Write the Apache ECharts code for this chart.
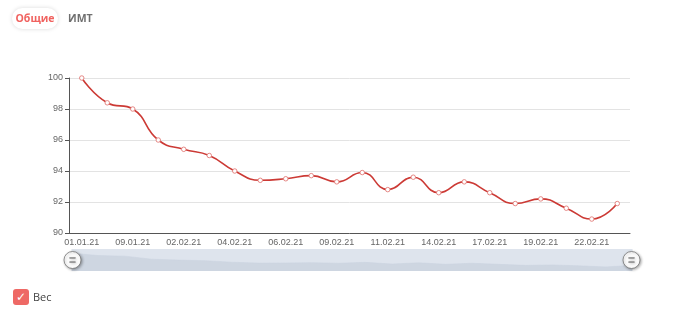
<!DOCTYPE html>
<html>
<head>
<meta charset="utf-8">
<script src="https://cdn.jsdelivr.net/npm/echarts@6/dist/echarts.min.js"></script>
<style>
html,body{margin:0;padding:0;background:#fff;}
#wrap{position:relative;width:680px;height:312px;overflow:hidden;font-family:"Open Sans",sans-serif;}
#chart{position:absolute;left:0;top:0;width:680px;height:312px;}
.tab{position:absolute;top:8px;height:21px;line-height:21px;font-size:10.5px;font-weight:bold;}
#t1{left:12px;width:46px;text-align:center;color:#f0625f;background:#fff;border-radius:11px;box-shadow:0 0 4px rgba(0,0,0,0.15);}
#t2{left:68px;color:#6f6f6f;}
#chk{position:absolute;left:13px;top:289px;width:16px;height:16px;border-radius:3px;background:#ee6965;color:#fff;font-family:"DejaVu Sans";font-size:12px;line-height:16px;text-align:center;}
#lg{position:absolute;left:33px;top:290px;font-size:11px;color:#444;line-height:14px;}
</style>
</head>
<body>
<div id="wrap">
<div id="chart"></div>
<div class="tab" id="t1">Общие</div>
<div class="tab" id="t2">ИМТ</div>
<div id="chk">✓</div>
<div id="lg">Вес</div>
</div>
<script>
const categories = ["01.01.21","05.01.21","09.01.21","15.01.21","02.02.21","03.02.21","04.02.21","05.02.21","06.02.21","08.02.21","09.02.21","10.02.21","11.02.21","13.02.21","14.02.21","16.02.21","17.02.21","18.02.21","19.02.21","21.02.21","22.02.21","23.02.21"];
const weights = [100,98.4,98,96,95.4,95,94,93.4,93.5,93.7,93.3,93.9,92.8,93.6,92.6,93.3,92.6,91.9,92.2,91.6,90.9,91.9];
const yTicks = {min:90, max:100, step:2};
const seriesName = "Вес";

const chart = echarts.init(document.getElementById('chart'));
chart.setOption({
  animation:false,
  textStyle:{fontFamily:'Liberation Sans'},
  grid:{left:69,right:50,top:78,bottom:79},
  xAxis:{
    type:'category',
    data:categories,
    boundaryGap:true,
    axisLine:{lineStyle:{color:'#555'}},
    axisTick:{interval:1,length:4,lineStyle:{color:'#555'}},
    axisLabel:{interval:1,color:'#666',fontSize:9,margin:5}
  },
  yAxis:{
    type:'value',
    min:yTicks.min,max:yTicks.max,interval:yTicks.step,
    axisLine:{show:true,lineStyle:{color:'#555'}},
    axisTick:{show:true,length:4,lineStyle:{color:'#555'}},
    axisLabel:{color:'#666',fontSize:9,margin:6},
    splitLine:{lineStyle:{color:'#e3e3e3'}}
  },
  dataZoom:[{
    type:'slider',
    left:69,right:50,top:249,height:22,
    start:0,end:100,
    showDetail:false,
    brushSelect:false,
    moveHandleSize:0,
    borderColor:'transparent',
    backgroundColor:'transparent',
    fillerColor:'rgba(200,210,225,0.6)',
    handleIcon:'path://M0,-10A10,10,0,1,1,0,10A10,10,0,1,1,0,-10Z M-3.5,-2.5L3.5,-2.5L3.5,-2.3L-3.5,-2.3Z M-3.5,2.3L3.5,2.3L3.5,2.5L-3.5,2.5Z',
    handleSize:17,
    handleStyle:{color:'#fff',borderColor:'#777',borderWidth:0.8,shadowBlur:3,shadowColor:'rgba(0,0,0,0.35)',shadowOffsetX:1,shadowOffsetY:1},
    dataBackground:{lineStyle:{color:'#cbd2dc',width:0.5},areaStyle:{color:'#d8dce1',opacity:1}},
    selectedDataBackground:{lineStyle:{color:'#cbd2dc',width:0.5},areaStyle:{color:'#d8dce1',opacity:1}}
  }],
  series:[{
    name:seriesName,
    type:'line',
    data:weights,
    smooth:true,
    symbol:'circle',
    symbolSize:4.5,
    lineStyle:{color:'#cc3a35',width:1.6},
    itemStyle:{color:'#ffffff',borderColor:'#e27c78',borderWidth:0.9}
  }]
});
</script>
</body>
</html>
